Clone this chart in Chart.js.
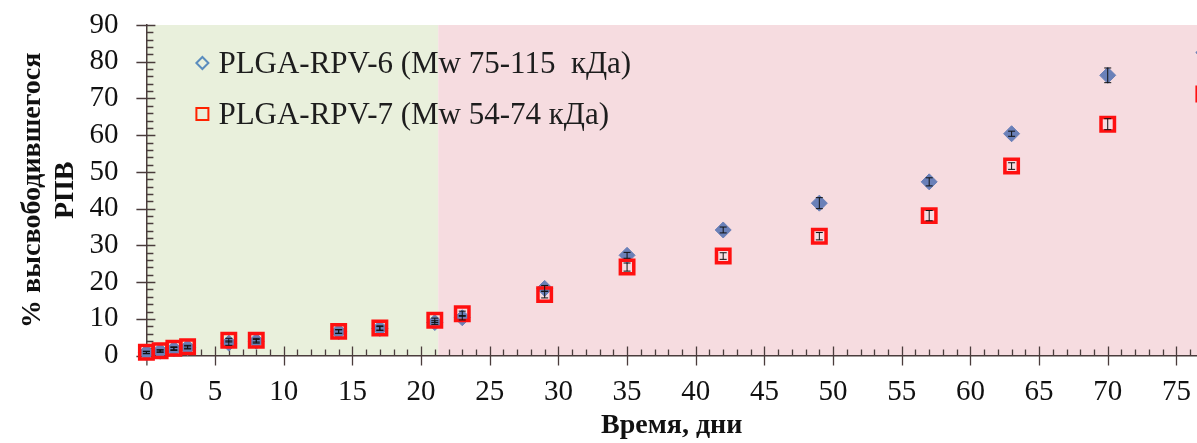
<!DOCTYPE html>
<html lang="ru">
<head>
    <meta charset="UTF-8">
    <title>Высвобождение РПВ</title>
    <script src="https://cdn.jsdelivr.net/npm/chart.js"></script>
    <style>
        * { margin: 0; padding: 0; box-sizing: border-box; }
        body { background: #fff; width: 1197px; height: 443px; overflow: hidden; }
        #wrap { position: relative; width: 1197px; height: 443px; }
    </style>
</head>
<body>
    <div id="wrap">
        <canvas id="release" width="1197" height="443"></canvas>
    </div>

    <script>
        // данные
        const days = [0, 1, 2, 3, 6, 8, 14, 17, 21, 23, 29, 35, 42, 49, 57, 63, 70, 77];
        const rpv6 = [0.8, 1.2, 1.8, 2.2, 3.4, 3.9, 6.5, 7.4, 9.0, 10.3, 18.3, 27.3, 34.2, 41.5, 47.3, 60.4, 76.3, 82.5];
        const rpv6Err = [0.3, 0.3, 0.4, 0.4, 0.6, 0.5, 0.5, 0.5, 0.5, 0.6, 0.8, 0.8, 0.8, 1.5, 1.1, 0.7, 2.0, 1.0];
        const rpv7 = [0.9, 1.3, 2.0, 2.4, 4.2, 4.2, 6.6, 7.5, 9.6, 11.4, 16.6, 24.1, 27.1, 32.5, 38.1, 51.6, 63.0, 71.2];
        const rpv7Err = [0.3, 0.3, 0.4, 0.4, 0.5, 0.5, 0.5, 0.6, 0.6, 0.7, 0.9, 1.1, 0.9, 1.0, 1.4, 0.9, 1.5, 1.0];

        const seriesNames = ['PLGA-RPV-6 (Mw 75-115  кДа)', 'PLGA-RPV-7 (Mw 54-74 кДа)'];
        const xTickValues = [0, 5, 10, 15, 20, 25, 30, 35, 40, 45, 50, 55, 60, 65, 70, 75];
        const yTickValues = [0, 10, 20, 30, 40, 50, 60, 70, 80, 90];
        const xMax = 76.5;
        const greenUntilDay = 21.25;

        const serif = "'Liberation Serif', 'Times New Roman', serif";
        const axisColor = '#4a3c3c';

        // фон: зелёная и розовая зоны
        const bandsPlugin = {
            id: 'bands',
            beforeDraw(chart) {
                const { ctx, scales: { x, y }, chartArea } = chart;
                const top = y.getPixelForValue(y.max);
                const bottom = y.getPixelForValue(y.min);
                const split = x.getPixelForValue(greenUntilDay);
                ctx.save();
                ctx.fillStyle = '#e9f0dc';
                ctx.fillRect(chartArea.left, top, split - chartArea.left, bottom - top);
                ctx.fillStyle = '#f6dce0';
                ctx.fillRect(split, top, chartArea.right - split, bottom - top);
                ctx.restore();
            }
        };

        // основные и промежуточные засечки осей
        const ticksPlugin = {
            id: 'axisTicks',
            beforeDatasetsDraw(chart) {
                const { ctx, scales: { x, y } } = chart;
                const x0 = x.getPixelForValue(0);
                const y0 = y.getPixelForValue(0);
                ctx.save();
                ctx.strokeStyle = axisColor;
                ctx.lineWidth = 1.3;
                ctx.beginPath();
                for (let v = 1; v <= x.max; v++) {
                    const px = Math.round(x.getPixelForValue(v)) + 0.5;
                    if (v % 5 === 0) {
                        ctx.moveTo(px, y0 - 9);
                        ctx.lineTo(px, y0 + 10);
                    } else {
                        ctx.moveTo(px, y0 - 6);
                        ctx.lineTo(px, y0);
                    }
                }
                for (let v = 0; v <= y.max; v += 2) {
                    const py = Math.round(y.getPixelForValue(v)) + 0.5;
                    if (v % 10 === 0) {
                        ctx.moveTo(x0 - 10, py);
                        ctx.lineTo(x0 + 9, py);
                    } else {
                        ctx.moveTo(x0, py);
                        ctx.lineTo(x0 + 7, py);
                    }
                }
                ctx.moveTo(x0 + 0.5, y0);
                ctx.lineTo(x0 + 0.5, y0 + 10);
                ctx.stroke();
                ctx.restore();
            }
        };

        // планки погрешностей
        const errorBarsPlugin = {
            id: 'errorBars',
            afterDatasetsDraw(chart) {
                const { ctx, scales: { x, y } } = chart;
                const errs = [rpv6Err, rpv7Err];
                ctx.save();
                ctx.strokeStyle = '#111';
                ctx.lineWidth = 1;
                chart.data.datasets.forEach((ds, i) => {
                    ds.data.forEach((p, j) => {
                        const px = x.getPixelForValue(p.x);
                        const hi = y.getPixelForValue(p.y + errs[i][j]);
                        const lo = y.getPixelForValue(p.y - errs[i][j]);
                        ctx.beginPath();
                        ctx.moveTo(px, hi);
                        ctx.lineTo(px, lo);
                        ctx.moveTo(px - 3.5, hi);
                        ctx.lineTo(px + 3.5, hi);
                        ctx.moveTo(px - 3.5, lo);
                        ctx.lineTo(px + 3.5, lo);
                        ctx.stroke();
                    });
                });
                ctx.restore();
            }
        };

        // легенда внутри области графика
        const legendPlugin = {
            id: 'innerLegend',
            afterDraw(chart) {
                const { ctx, chartArea } = chart;
                const mx = chartArea.left + 56;
                const rows = [chartArea.top + 38, chartArea.top + 89];
                ctx.save();
                ctx.font = '31px ' + serif;
                ctx.fillStyle = '#1d1d1d';
                ctx.textBaseline = 'middle';
                // ромб
                ctx.strokeStyle = '#5b8dbe';
                ctx.lineWidth = 2;
                ctx.beginPath();
                ctx.moveTo(mx - 6, rows[0]);
                ctx.lineTo(mx, rows[0] - 6);
                ctx.lineTo(mx + 6, rows[0]);
                ctx.lineTo(mx, rows[0] + 6);
                ctx.closePath();
                ctx.stroke();
                // квадрат
                ctx.strokeStyle = '#ff2200';
                ctx.strokeRect(mx - 6, rows[1] - 6, 12, 12);
                ctx.fillText(seriesNames[0], mx + 16, rows[0] + 2);
                ctx.fillText(seriesNames[1], mx + 16, rows[1] + 2);
                ctx.restore();
            }
        };

        new Chart(document.getElementById('release'), {
            type: 'scatter',
            data: {
                datasets: [
                    {
                        label: seriesNames[0],
                        data: days.map((d, i) => ({ x: d, y: rpv6[i] })),
                        pointStyle: 'rectRot',
                        pointRadius: 8,
                        backgroundColor: '#6a80b8',
                        borderColor: '#6a80b8',
                        borderWidth: 1,
                        clip: false,
                        order: 2
                    },
                    {
                        label: seriesNames[1],
                        data: days.map((d, i) => ({ x: d, y: rpv7[i] })),
                        pointStyle: 'rect',
                        pointRadius: 9.5,
                        backgroundColor: 'rgba(0,0,0,0)',
                        borderColor: '#ff1010',
                        borderWidth: 3.5,
                        clip: false,
                        order: 1
                    }
                ]
            },
            options: {
                responsive: false,
                animation: false,
                events: [],
                layout: { autoPadding: false, padding: { left: 10, top: 25, right: 0, bottom: 0 } },
                plugins: {
                    legend: { display: false },
                    tooltip: { enabled: false }
                },
                scales: {
                    x: {
                        type: 'linear',
                        min: 0,
                        max: xMax,
                        // пустая метка на правом краю, чтобы область графика шла до края
                        afterBuildTicks: (s) => {
                            s.ticks = xTickValues.map(v => ({ value: v })).concat([{ value: xMax }]);
                        },
                        grid: { display: false, drawTicks: true, tickLength: 19 },
                        border: { display: true, color: axisColor, width: 1.5 },
                        ticks: {
                            color: '#111',
                            font: { family: serif, size: 29 },
                            padding: 0,
                            maxRotation: 0,
                            autoSkip: false,
                            callback: (v) => (xTickValues.includes(v) ? String(v) : '')
                        },
                        title: {
                            display: true,
                            text: 'Время, дни',
                            color: '#111',
                            font: { family: serif, size: 28, weight: 'bold' },
                            padding: { top: 0, bottom: 0 }
                        }
                    },
                    y: {
                        min: 0,
                        max: 90,
                        afterBuildTicks: (s) => { s.ticks = yTickValues.map(v => ({ value: v })); },
                        grid: { display: false, drawTicks: true, tickLength: 28 },
                        border: { display: true, color: axisColor, width: 1.5 },
                        ticks: { color: '#111', font: { family: serif, size: 29 }, padding: 0, autoSkip: false },
                        title: {
                            display: true,
                            text: ['% высвободившегося', 'РПВ'],
                            color: '#111',
                            font: { family: serif, size: 28, weight: 'bold', lineHeight: 1.15 },
                            padding: { top: 7, bottom: 8 }
                        }
                    }
                }
            },
            plugins: [bandsPlugin, ticksPlugin, errorBarsPlugin, legendPlugin]
        });
    </script>
</body>
</html>
